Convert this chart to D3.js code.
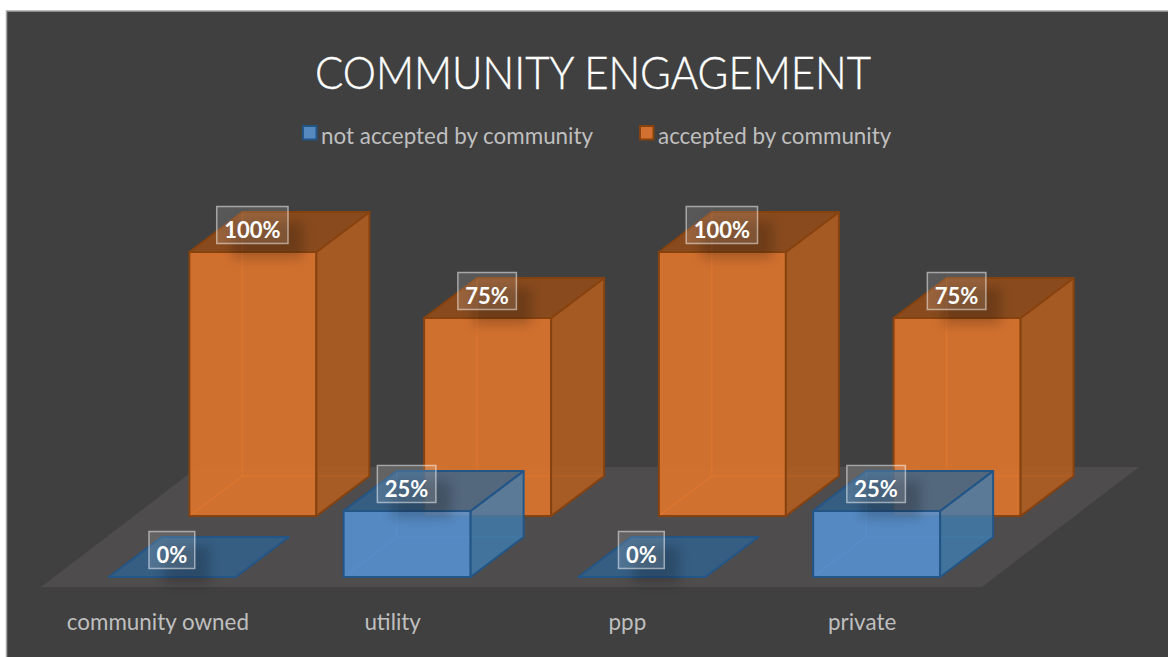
<!DOCTYPE html>
<html>
<head>
<meta charset="utf-8">
<script src="https://cdn.jsdelivr.net/npm/d3@7"></script>
<style>
  html, body { margin: 0; padding: 0; background: #ffffff; overflow: hidden; }
  svg { display: block; }
  text { font-family: Lato, "Open Sans", sans-serif; }
</style>
</head>
<body>
<svg id="chart" width="1168" height="657"></svg>
<script>
// Chart content
const chartTitle = "COMMUNITY ENGAGEMENT";
const categories = ["community owned", "utility", "ppp", "private"];
const seriesNames = ["not accepted by community", "accepted by community"];
const notAccepted = [0, 25, 0, 25];
const accepted = [100, 75, 100, 75];

// Pseudo-3D projection of the column chart
const barWidth = 127;
const depthX = 53, depthY = -40;
const floorDepthX = 157, floorDepthY = -120;

const svg = d3.select("#chart");

const x = d3.scaleBand().domain(categories).range([40.5, 979.5]);
const y = d3.scaleLinear().domain([0, 100]).range([0, 264]);

// Each series stands on its own row of the floor
const rows = [
  {
    name: seriesNames[0], values: notAccepted, dx: -49, base: 577,
    front: "rgba(86,146,210,0.88)", side: "rgba(63,124,176,0.82)", top: "rgba(48,100,148,0.78)",
    inner: "rgba(90,150,215,0.55)", stroke: "#235586", swatch: "#5589c0"
  },
  {
    name: seriesNames[1], values: accepted, dx: 31.5, base: 516,
    front: "rgba(224,117,45,0.90)", side: "rgba(182,94,32,0.86)", top: "rgba(151,77,25,0.85)",
    inner: "rgba(236,125,50,0.75)", stroke: "#86420f", swatch: "#d2702f"
  }
];

const pts = a => a.map(p => p.join(",")).join(" ");

// Background with its thin frame
svg.append("rect").attr("x", 6.5).attr("y", 11).attr("width", 1170).attr("height", 660)
  .attr("fill", "#404040").attr("stroke", "#a6a6a6").attr("stroke-width", 1.5);

// Floor
svg.append("polygon")
  .attr("points", pts([[41, 587], [982, 587], [982 + floorDepthX, 587 + floorDepthY], [41 + floorDepthX, 587 + floorDepthY]]))
  .attr("fill", "#4e4c4c");

const defs = svg.append("defs");
defs.append("filter").attr("id", "labelShadow")
  .attr("x", "-60%").attr("y", "-60%").attr("width", "220%").attr("height", "220%")
  .append("feGaussianBlur").attr("stdDeviation", 6);

function drawBox(g, row, i) {
  const xl = x(categories[i]) + x.bandwidth() / 2 + row.dx;
  const xr = xl + barWidth;
  const yb = row.base;
  const yt = yb - y(row.values[i]);
  const dx = depthX, dy = depthY;

  if (row.values[i] > 0) {
    // Hidden edges seen through the translucent faces
    g.append("path")
      .attr("d", `M${xl},${yb}L${xl + dx},${yb + dy}L${xr + dx},${yb + dy}M${xl + dx},${yb + dy}L${xl + dx},${yt + dy}`)
      .attr("fill", "none").attr("stroke", row.inner).attr("stroke-width", 1.2);
    g.append("polygon").attr("points", pts([[xl, yt], [xr, yt], [xr, yb], [xl, yb]]))
      .attr("fill", row.front).attr("stroke", row.stroke).attr("stroke-width", 2).attr("stroke-linejoin", "round");
    g.append("polygon").attr("points", pts([[xr, yt], [xr + dx, yt + dy], [xr + dx, yb + dy], [xr, yb]]))
      .attr("fill", row.side).attr("stroke", row.stroke).attr("stroke-width", 2).attr("stroke-linejoin", "round");
  }
  g.append("polygon").attr("points", pts([[xl, yt], [xr, yt], [xr + dx, yt + dy], [xl + dx, yt + dy]]))
    .attr("fill", row.top).attr("stroke", row.stroke).attr("stroke-width", 2).attr("stroke-linejoin", "round");
}

// Back row first so the front row shows over it
const barsLayer = svg.append("g");
rows.slice().reverse().forEach(row => {
  row.values.forEach((v, i) => drawBox(barsLayer.append("g"), row, i));
});

// Value labels sit in a translucent box above the front face
const labelLayer = svg.append("g");
rows.forEach(row => {
  row.values.forEach((v, i) => {
    const cx = x(categories[i]) + x.bandwidth() / 2 + row.dx + barWidth / 2 - 0.5;
    const cy = row.base - y(v) - 27;
    const g = labelLayer.append("g");
    const shadow = g.append("rect");
    const box = g.append("rect");
    const t = g.append("text")
      .attr("x", cx).attr("y", cy + 13)
      .attr("text-anchor", "middle")
      .attr("font-size", 22).attr("font-weight", 700)
      .attr("fill", "#ffffff")
      .text(v + "%");
    const w = t.node().getComputedTextLength() + 15;
    const h = 37;
    shadow.attr("x", cx - w / 2 + 15).attr("y", cy - h / 2 + 15).attr("width", w).attr("height", h)
      .attr("fill", "#000000").attr("opacity", 0.2).attr("filter", "url(#labelShadow)");
    box.attr("x", cx - w / 2).attr("y", cy - h / 2).attr("width", w).attr("height", h)
      .attr("fill", "rgba(255,255,255,0.13)").attr("stroke", "rgba(255,255,255,0.5)").attr("stroke-width", 1.5);
  });
});

// Category labels
const axisG = svg.append("g")
  .attr("transform", "translate(0,630)")
  .call(d3.axisBottom(x).tickSize(0).tickPadding(0));
axisG.select(".domain").remove();
axisG.selectAll("text")
  .attr("y", 0).attr("dy", 0)
  .attr("font-size", 22.4)
  .attr("font-family", "Lato, 'Open Sans', sans-serif")
  .attr("fill", "#bfbfbf");

// Title
svg.append("text")
  .attr("x", 593).attr("y", 89).attr("text-anchor", "middle")
  .attr("font-size", 46).attr("font-weight", 300)
  .attr("textLength", 556).attr("lengthAdjust", "spacingAndGlyphs")
  .attr("fill", "#ffffff").attr("stroke", "#ffffff").attr("stroke-width", 0.4)
  .text(chartTitle);

// Legend
const legendX = [302, 639];
rows.forEach((row, i) => {
  svg.append("rect")
    .attr("x", legendX[i] + 1).attr("y", 126).attr("width", 13.5).attr("height", 13.5)
    .attr("fill", row.swatch).attr("stroke", row.stroke).attr("stroke-width", 2);
  svg.append("text")
    .attr("x", legendX[i] + 19).attr("y", 144)
    .attr("font-size", 22.4).attr("fill", "#bfbfbf")
    .text(row.name);
});
</script>
</body>
</html>
